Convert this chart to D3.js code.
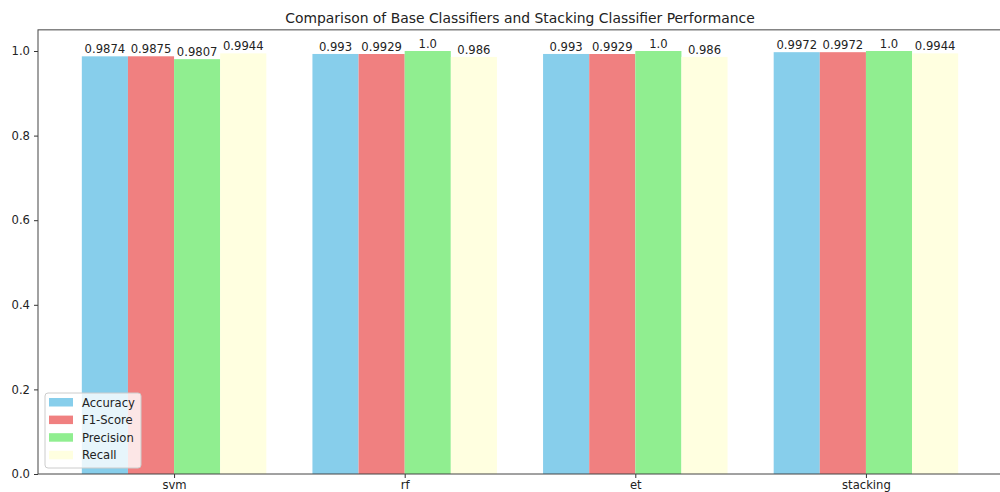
<!DOCTYPE html>
<html>
<head>
<meta charset="utf-8">
<script src="https://cdn.jsdelivr.net/npm/d3@7"></script>
<style>
  body { margin: 0; background: #fff; }
  svg text { font-family: "DejaVu Sans", sans-serif; fill: #222; }
</style>
</head>
<body>
<script>
// chart data
const models = ["svm", "rf", "et", "stacking"];
const metrics = ["Accuracy", "F1-Score", "Precision", "Recall"];
const accuracy = [0.9874, 0.993, 0.993, 0.9972];
const f1Score = [0.9875, 0.9929, 0.9929, 0.9972];
const precision = [0.9807, 1.0, 1.0, 1.0];
const recall = [0.9944, 0.986, 0.986, 0.9944];
const yTicks = [0.0, 0.2, 0.4, 0.6, 0.8, 1.0];
const colors = ["#87ceeb", "#f08080", "#90ee90", "#ffffe0"];

const width = 1000;
const height = 492;
const series = [accuracy, f1Score, precision, recall];

const svg = d3.select("body")
    .append("svg")
    .attr("width", width)
    .attr("height", height);

// scales: bars at i-0.3, i-0.1, i+0.1, i+0.3, width 0.2, matplotlib margins
const x = d3.scaleLinear()
    .domain([-0.59, models.length - 1 + 0.59])
    .range([38, 1002]);
const y = d3.scaleLinear()
    .domain([0, 1.05])
    .range([474, 474 - 1.05 * 423]);

const barW = 0.2;
const offsets = [-0.3, -0.1, 0.1, 0.3];

// bars
series.forEach((vals, k) => {
    const g = svg.append("g");
    g.selectAll("rect")
        .data(vals)
        .enter()
        .append("rect")
        .attr("x", (d, i) => x(i + offsets[k] - barW / 2))
        .attr("width", x(barW) - x(0))
        .attr("y", d => y(d))
        .attr("height", d => y(0) - y(d))
        .attr("fill", colors[k]);

    g.selectAll("text")
        .data(vals)
        .enter()
        .append("text")
        .attr("x", (d, i) => x(i + offsets[k]))
        .attr("y", d => y(d) - 3)
        .attr("text-anchor", "middle")
        .style("font-size", "11.6px")
        .text(d => Number.isInteger(d) ? d.toFixed(1) : String(d));
});

// axes
const yAxis = d3.axisLeft(y)
    .tickValues(yTicks)
    .tickFormat(d3.format(".1f"))
    .tickSize(4)
    .tickPadding(4);
const gy = svg.append("g")
    .attr("transform", `translate(${x.range()[0]},0)`)
    .call(yAxis);
gy.select(".domain").remove();
gy.selectAll("text").style("font-size", "11.6px");
gy.selectAll("line").attr("stroke", "#333");

const xAxis = d3.axisBottom(x)
    .tickValues(d3.range(models.length))
    .tickFormat(i => models[i])
    .tickSize(4)
    .tickPadding(3);
const gx = svg.append("g")
    .attr("transform", `translate(0,${y(0)})`)
    .call(xAxis);
gx.select(".domain").remove();
gx.selectAll("text").style("font-size", "11.6px");
gx.selectAll("line").attr("stroke", "#333");

// frame
svg.append("rect")
    .attr("x", x.range()[0])
    .attr("y", y.range()[1])
    .attr("width", x.range()[1] - x.range()[0])
    .attr("height", y.range()[0] - y.range()[1])
    .attr("fill", "none")
    .attr("stroke", "#444")
    .attr("stroke-width", 1);

// title
svg.append("text")
    .attr("x", (x.range()[0] + x.range()[1]) / 2)
    .attr("y", 23)
    .attr("text-anchor", "middle")
    .style("font-size", "13.9px")
    .text("Comparison of Base Classifiers and Stacking Classifier Performance");

// legend
const legend = svg.append("g").attr("transform", "translate(45,393)");
legend.append("rect")
    .attr("width", 96)
    .attr("height", 75)
    .attr("rx", 3)
    .attr("fill", "white")
    .attr("fill-opacity", 0.8)
    .attr("stroke", "#ccc");
metrics.forEach((m, k) => {
    legend.append("rect")
        .attr("x", 4)
        .attr("y", 5 + k * 17.6)
        .attr("width", 24)
        .attr("height", 8.5)
        .attr("fill", colors[k]);
    legend.append("text")
        .attr("x", 37)
        .attr("y", 5 + k * 17.6 + 8.5)
        .style("font-size", "11.6px")
        .text(m);
});
</script>
</body>
</html>
